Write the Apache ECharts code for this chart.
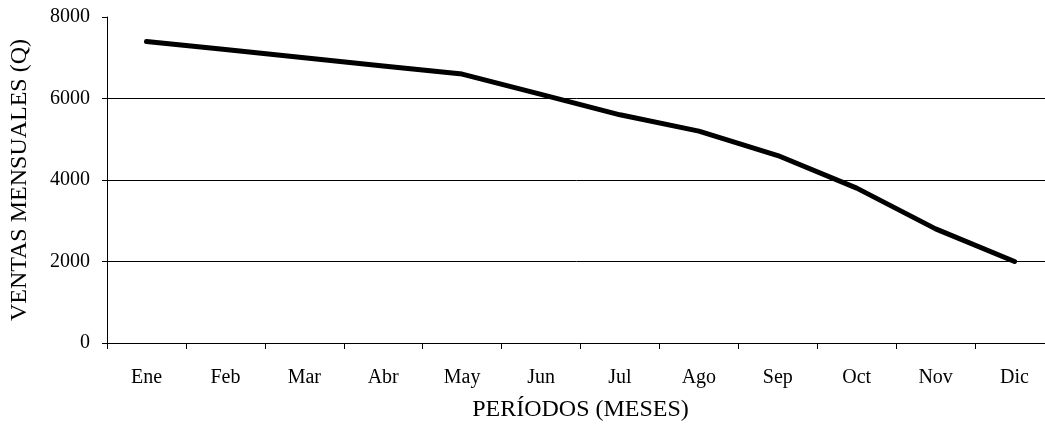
<!DOCTYPE html>
<html>
<head>
<meta charset="utf-8">
<script src="https://cdn.jsdelivr.net/npm/echarts@6/dist/echarts.min.js"></script>
<style>
html,body{margin:0;padding:0;background:#fff;}
#chart{width:1045px;height:429px;}
</style>
</head>
<body>
<div id="chart"></div>
<script>
const categories = ['Ene','Feb','Mar','Abr','May','Jun','Jul','Ago','Sep','Oct','Nov','Dic'];
const ventas = [7400, 7200, 7000, 6800, 6600, 6100, 5600, 5200, 4600, 3800, 2800, 2000];
const yTitle = 'VENTAS MENSUALES (Q)';
const xTitle = 'PERÍODOS (MESES)';

const font = '"Liberation Serif", "Times New Roman", serif';
const chart = echarts.init(document.getElementById('chart'), null, {renderer: 'canvas'});
chart.setOption({
  animation: false,
  backgroundColor: '#fff',
  grid: {left: 107, top: 17, right: -9, bottom: 86, containLabel: false, outerBoundsMode: 'none'},
  xAxis: {
    type: 'category',
    data: categories,
    boundaryGap: true,
    name: xTitle,
    nameLocation: 'middle',
    nameGap: 55,
    nameTextStyle: {fontFamily: font, fontSize: 24, color: '#000'},
    axisLine: {lineStyle: {color: '#000', width: 1}},
    axisTick: {show: true, length: 6, lineStyle: {color: '#000'}},
    axisLabel: {fontFamily: font, fontSize: 20, color: '#000', margin: 25},
    splitLine: {show: false}
  },
  yAxis: {
    type: 'value',
    min: 0, max: 8000, interval: 2000,
    name: yTitle,
    nameLocation: 'middle',
    nameGap: 75,
    nameTextStyle: {fontFamily: font, fontSize: 24, color: '#000'},
    axisLine: {show: true, lineStyle: {color: '#000', width: 1}},
    axisTick: {show: true, length: 5, lineStyle: {color: '#000'}},
    axisLabel: {fontFamily: font, fontSize: 20, color: '#000', margin: 17, formatter: function (v) { return String(v); }},
    splitLine: {show: true, lineStyle: {color: ['#000','#000','#000','#000','rgba(0,0,0,0)'], width: 1}}
  },
  series: [{
    type: 'line',
    data: ventas,
    symbol: 'none',
    lineStyle: {color: '#000', width: 5, cap: 'round', join: 'round'}
  }]
});
</script>
</body>
</html>
